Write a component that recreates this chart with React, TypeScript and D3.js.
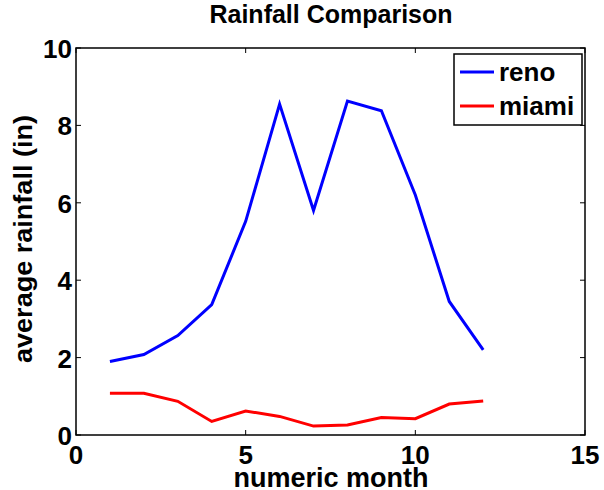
import React, { useEffect, useRef } from 'react';
import * as d3 from 'd3';

const months = [1, 2, 3, 4, 5, 6, 7, 8, 9, 10, 11, 12];
const renoRain = [1.9, 2.08, 2.57, 3.37, 5.52, 8.55, 5.8, 8.63, 8.38, 6.2, 3.45, 2.2];
const miamiRain = [1.08, 1.08, 0.87, 0.35, 0.62, 0.48, 0.23, 0.26, 0.45, 0.42, 0.8, 0.88];
const seriesNames = ['reno', 'miami'];
const seriesColors = ['#0000ff', '#ff0000'];
const xTicks = [0, 5, 10, 15];
const yTicks = [0, 2, 4, 6, 8, 10];

const W = 604;
const H = 490;
const FONT = '"Liberation Sans", Arial, Helvetica, sans-serif';

export default function App() {
  const svgRef = useRef<SVGSVGElement>(null);

  useEffect(() => {
    if (!svgRef.current) return;
    const svg = d3.select(svgRef.current);
    svg.selectAll('*').remove();

    const left = 76, right = 585, top = 48, bottom = 435;

    const x = d3.scaleLinear().domain([0, 15]).range([left, right]);
    const y = d3.scaleLinear().domain([0, 10]).range([bottom, top]);

    svg.append('rect').attr('width', W).attr('height', H).attr('fill', '#fff');

    const bold = (sel: d3.Selection<SVGTextElement, unknown, null, undefined>, size: number) =>
      sel.style('font-family', FONT).style('font-weight', 'bold').style('font-size', `${size}px`).attr('fill', '#000');

    // data lines
    const series = [renoRain, miamiRain];
    const line = d3.line<number>()
      .x((_, i) => x(months[i]))
      .y(d => y(d));

    series.forEach((s, k) => {
      svg.append('path')
        .datum(s)
        .attr('d', line)
        .attr('fill', 'none')
        .attr('stroke', seriesColors[k])
        .attr('stroke-width', 3);
    });

    // box
    svg.append('rect')
      .attr('x', left).attr('y', top)
      .attr('width', right - left).attr('height', bottom - top)
      .attr('fill', 'none').attr('stroke', '#000').attr('stroke-width', 1.5);

    const tk = 5;
    // x ticks (bottom + top, inward)
    xTicks.forEach(t => {
      const px = x(t);
      svg.append('line').attr('x1', px).attr('x2', px).attr('y1', bottom).attr('y2', bottom - tk)
        .attr('stroke', '#000').attr('stroke-width', 1);
      svg.append('line').attr('x1', px).attr('x2', px).attr('y1', top).attr('y2', top + tk)
        .attr('stroke', '#000').attr('stroke-width', 1);
      bold(svg.append('text')
        .attr('x', px).attr('y', bottom + 29)
        .attr('text-anchor', 'middle'), 26)
        .text(t);
    });

    // y ticks (left + right, inward)
    yTicks.forEach(t => {
      const py = y(t);
      svg.append('line').attr('x1', left).attr('x2', left + tk).attr('y1', py).attr('y2', py)
        .attr('stroke', '#000').attr('stroke-width', 1);
      svg.append('line').attr('x1', right).attr('x2', right - tk).attr('y1', py).attr('y2', py)
        .attr('stroke', '#000').attr('stroke-width', 1);
      bold(svg.append('text')
        .attr('x', left - 4).attr('y', py + 10)
        .attr('text-anchor', 'end'), 26)
        .text(t);
    });

    // title
    bold(svg.append('text')
      .attr('x', 331).attr('y', 23)
      .attr('text-anchor', 'middle'), 25)
      .text('Rainfall Comparison');

    // axis labels
    bold(svg.append('text')
      .attr('x', 331).attr('y', 487)
      .attr('text-anchor', 'middle'), 27)
      .text('numeric month');

    bold(svg.append('text')
      .attr('transform', `translate(32, 239) rotate(-90)`)
      .attr('text-anchor', 'middle')
      .attr('textLength', 248)
      .attr('lengthAdjust', 'spacingAndGlyphs'), 25)
      .text('average rainfall (in)');

    // legend
    const lg = svg.append('g');
    lg.append('rect')
      .attr('x', 454).attr('y', 54).attr('width', 128).attr('height', 71)
      .attr('fill', '#fff').attr('stroke', '#000').attr('stroke-width', 1.5);
    seriesNames.forEach((name, k) => {
      const cy = 72 + k * 34;
      lg.append('line')
        .attr('x1', 460).attr('x2', 494).attr('y1', cy).attr('y2', cy)
        .attr('stroke', seriesColors[k]).attr('stroke-width', 3);
      bold(lg.append('text')
        .attr('x', 499).attr('y', cy + 9), 26)
        .text(name);
    });
  }, []);

  return (
    <svg
      ref={svgRef}
      width={W}
      height={H}
      viewBox={`0 0 ${W} ${H}`}
      style={{ position: 'absolute', left: 0, top: 0 }}
    />
  );
}
